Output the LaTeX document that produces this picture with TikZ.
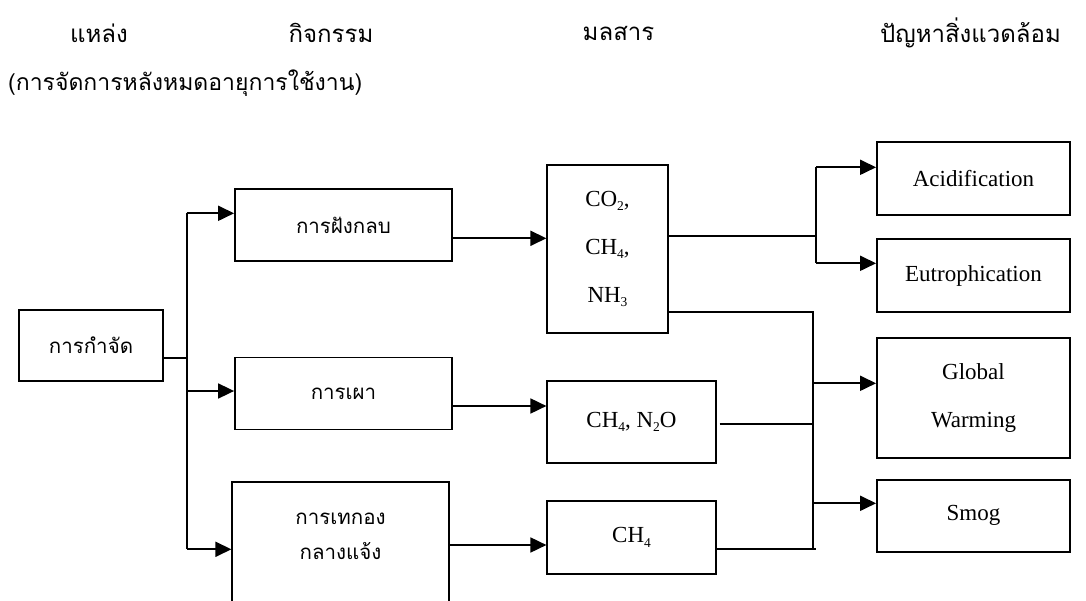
\documentclass[tikz,border=0pt]{standalone}
\usepackage{fontspec}
\setmainfont{Liberation Serif}
\newfontfamily\thaifont[Script=Thai]{Loma}
\usetikzlibrary{arrows.meta}
\newcommand{\chemsub}[1]{\raisebox{-0.45ex}{\fontsize{13.5}{13.5}\selectfont #1}}
\begin{document}
\begin{tikzpicture}[x=1pt,y=-1pt,
  box/.style={draw, line width=1.8pt, inner sep=0pt, align=center,
    font=\fontsize{23}{48}\selectfont},
  thbox/.style={box, font=\thaifont\fontsize{20.5}{35}\selectfont},
  thtext/.style={inner sep=0pt, align=center, font=\thaifont\fontsize{20.5}{35}\selectfont},
  heading/.style={inner sep=0pt, font=\thaifont\fontsize{24}{30}\selectfont},
  conn/.style={line width=1.8pt},
  arr/.style={conn, -{Triangle[length=16pt,width=15pt]}}]
\clip (0,0) rectangle (1086,601);

% column headings
\node[heading] (hsrc)  at (99,33)    {แหล่ง};
\node[heading] (hact)  at (331,33)   {กิจกรรม};
\node[heading] (hpol)  at (618.5,33) {มลสาร};
\node[heading] (henv)  at (970.5,33) {ปัญหาสิ่งแวดล้อม};
\node[heading, font=\thaifont\fontsize{23}{30}\selectfont, anchor=west] (hsrc2) at (8,83)
  {(การจัดการหลังหมดอายุการใช้งาน)};

% source
\node[thbox, minimum width=144pt, minimum height=71pt] (kamjat) at (91,345.5) {การกำจัด};

% activities
\node[thbox, minimum width=217pt, minimum height=72pt] (fang) at (343.5,225) {การฝังกลบ};
\node[thbox, minimum width=217pt, minimum height=72pt] (phao) at (343.5,393.5) {การเผา};
\node[draw, line width=1.8pt, minimum width=216.4pt, minimum height=158.3pt] (thekong) at (340.5,560.85) {};
\node[thtext] (thekongtxt) at (340.5,536) {การเทกอง\\กลางแจ้ง};

% pollutants
\node[box, minimum width=120.4pt, minimum height=168.3pt] (co2) at (607.5,249)
  {CO\chemsub{2},\\CH\chemsub{4},\\NH\chemsub{3}};
\node[box, minimum width=168.4pt, minimum height=82.3pt] (ch4n2o) at (631.5,422)
  {CH\chemsub{4}, N\chemsub{2}O};
\node[box, minimum width=168.4pt, minimum height=73pt] (ch4) at (631.5,537.5)
  {CH\chemsub{4}};

% environmental problems
\node[box, minimum width=193pt, minimum height=73pt] (acid) at (973.5,178.5) {Acidification};
\node[box, minimum width=193pt, minimum height=73pt] (eutro) at (973.5,275.8) {Eutrophication};
\node[box, minimum width=193pt, minimum height=120pt] (gw) at (973.5,398.3) {Global\\Warming};
\node[box, minimum width=193pt, minimum height=71.7pt] (smog) at (973.5,515.8) {Smog};

% source to activities
\coordinate (trunk) at (186.7,357.7);
\coordinate (pFang) at ([yshift=11.7pt]fang.west);
\coordinate (pPhao) at ([yshift=2.5pt]phao.west);
\coordinate (pThek) at ([yshift=11.55pt]thekong.west);
\draw[conn] ([yshift=-12.2pt]kamjat.east) -- (trunk);
\draw[conn] (trunk |- pFang) -- (trunk |- pThek);
\draw[arr] (trunk |- pFang) -- (pFang);
\draw[arr] (trunk |- pPhao) -- (pPhao);
\draw[arr] (trunk |- pThek) -- (pThek);

% activities to pollutants
\coordinate (oFang) at ([yshift=-13.3pt]fang.east);
\coordinate (oPhao) at ([yshift=-12.5pt]phao.east);
\coordinate (oThek) at ([yshift=15.85pt]thekong.east);
\draw[arr] (oFang) -- (co2.west |- oFang);
\draw[arr] (oPhao) -- (ch4n2o.west |- oPhao);
\draw[arr] (oThek) -- (ch4.west |- oThek);

% pollutants to problems
\coordinate (busA) at (816,235.7);
\coordinate (busB) at (813,311.7);
\coordinate (iAcid) at ([yshift=11.2pt]acid.west);
\coordinate (iEutro) at ([yshift=12.5pt]eutro.west);
\coordinate (iGw) at ([yshift=15pt]gw.west);
\coordinate (iSmog) at ([yshift=12.5pt]smog.west);
\coordinate (oCo2a) at ([yshift=13.3pt]co2.east);
\coordinate (oCo2b) at ([yshift=-62.7pt]co2.east);
\coordinate (oMid) at ([yshift=-2pt]ch4n2o.east);
\coordinate (oLow) at ([yshift=-11.8pt]ch4.east);

\draw[conn] (oCo2a) -- (busA |- oCo2a);
\draw[conn] (busA |- iAcid) -- (busA |- iEutro);
\draw[arr] (busA |- iAcid) -- (iAcid);
\draw[arr] (busA |- iEutro) -- (iEutro);

\draw[conn] (oCo2b) -| (busB |- oLow);
\draw[conn] ([xshift=3pt]oMid) -- (busB |- oMid);
\draw[conn] (oLow) -- ([xshift=3pt]busB |- oLow);
\draw[arr] (busB |- iGw) -- (iGw);
\draw[arr] (busB |- iSmog) -- (iSmog);
\end{tikzpicture}
\end{document}
